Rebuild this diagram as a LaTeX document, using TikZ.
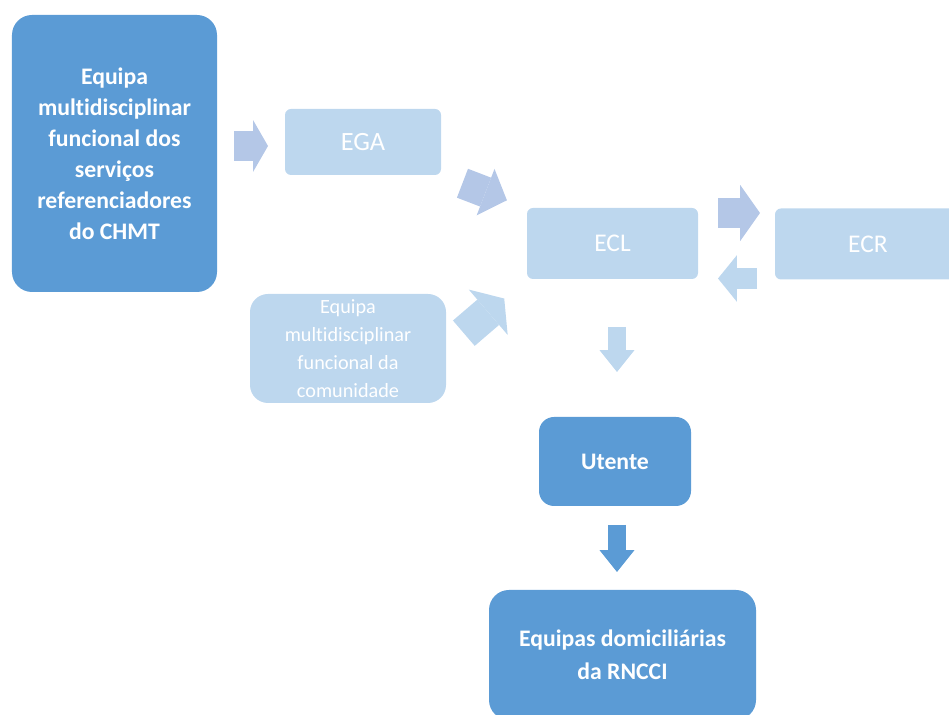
\documentclass[tikz,border=0pt]{standalone}
\usepackage{fontspec}
\setmainfont{Carlito}[Ligatures=NoCommon]
\usetikzlibrary{arrows.meta}
\definecolor{DarkBox}{HTML}{5B9BD5}
\definecolor{LightBox}{HTML}{BDD7EE}
\definecolor{ArrowLavender}{HTML}{B4C7E7}
\definecolor{ArrowLight}{HTML}{BDD7EE}
\tikzset{
    dark box/.style={
        fill=DarkBox, text=white, align=center,
        inner sep=0pt, outer sep=0pt
    },
    light box/.style={
        fill=LightBox, text=white, align=center,
        inner sep=0pt, outer sep=0pt
    },
    block arrow/.style n args={3}{
        line width=#1pt,
        -{Triangle[width=#2pt 0 0, length=#3pt 0 0, line width=0pt]}
    }
}

\begin{document}
\begin{tikzpicture}

\clip (0,0) rectangle (18.98,-14.3);

% Caixas principais
\node[dark box, rounded corners=0.4cm, minimum width=4.1cm, minimum height=5.54cm,
      font=\fontsize{13.5}{17.6}\selectfont\bfseries]
    (servicos) at (2.29,-3.07)
    {Equipa\\multidisciplinar\\funcional dos\\serviços\\referenciadores\\do CHMT};
\node[light box, rounded corners=0.12cm, minimum width=3.12cm, minimum height=1.32cm,
      font=\fontsize{15}{18}\selectfont]
    (ega) at (7.26,-2.84) {EGA};
\node[light box, rounded corners=0.12cm, minimum width=3.42cm, minimum height=1.42cm,
      font=\fontsize{14.5}{18}\selectfont]
    (ecl) at (12.25,-4.87) {ECL};
\node[light box, rounded corners=0.12cm, minimum width=3.72cm, minimum height=1.42cm,
      font=\fontsize{14.5}{18}\selectfont]
    (ecr) at (17.36,-4.88) {ECR};
\node[light box, rounded corners=0.36cm, minimum width=3.92cm, minimum height=2.18cm,
      font=\fontsize{11.5}{16}\selectfont]
    (comunidade) at (6.96,-6.97)
    {Equipa\\multidisciplinar\\funcional da\\comunidade};
\node[dark box, rounded corners=0.3cm, minimum width=3.04cm, minimum height=1.78cm,
      font=\fontsize{13.5}{19}\selectfont\bfseries]
    (utente) at (12.3,-9.23) {Utente};
\node[dark box, rounded corners=0.4cm, minimum width=5.34cm, minimum height=2.6cm,
      font=\fontsize{13.5}{19}\selectfont\bfseries]
    (domiciliarias) at (12.45,-13.1) {Equipas domiciliárias\\da RNCCI};

% Setas entre as caixas
\draw[ArrowLavender, block arrow={17}{29.5}{8.5}, shorten <=0.34cm, shorten >=0.34cm]
    ([yshift=-0.08cm]servicos.east |- ega.west) -- ([yshift=-0.08cm]ega.west);
\draw[ArrowLavender, block arrow={17.6}{28.3}{13}, shorten <=0.46cm, shorten >=0.43cm]
    (ega.south east) -- (ecl.north west);
\draw[ArrowLight, block arrow={19}{34}{12}, shorten <=0.47cm, shorten >=0.6cm]
    (comunidade.east) -- (ecl.south west);
\draw[ArrowLavender, block arrow={17.6}{32}{11.3}, shorten <=0.4cm, shorten >=0.3cm]
    ([yshift=0.61cm]ecl.east) -- ([yshift=0.61cm]ecl.east -| ecr.west);
\draw[ArrowLight, block arrow={12}{26.6}{10.8}, shorten <=0.36cm, shorten >=0.4cm]
    ([yshift=-0.69cm]ecr.west) -- ([yshift=-0.69cm]ecr.west -| ecl.east);
\draw[ArrowLight, block arrow={10.8}{20}{12.5}, shorten <=0.96cm, shorten >=0.9cm]
    ([xshift=0.04cm]ecl.south -| utente.north) -- ([xshift=0.04cm]utente.north);
\draw[DarkBox, block arrow={10.8}{20}{12.5}, shorten <=0.38cm, shorten >=0.36cm]
    ([xshift=0.04cm]utente.south) -- ([xshift=0.04cm]utente.south |- domiciliarias.north);

\end{tikzpicture}
\end{document}
